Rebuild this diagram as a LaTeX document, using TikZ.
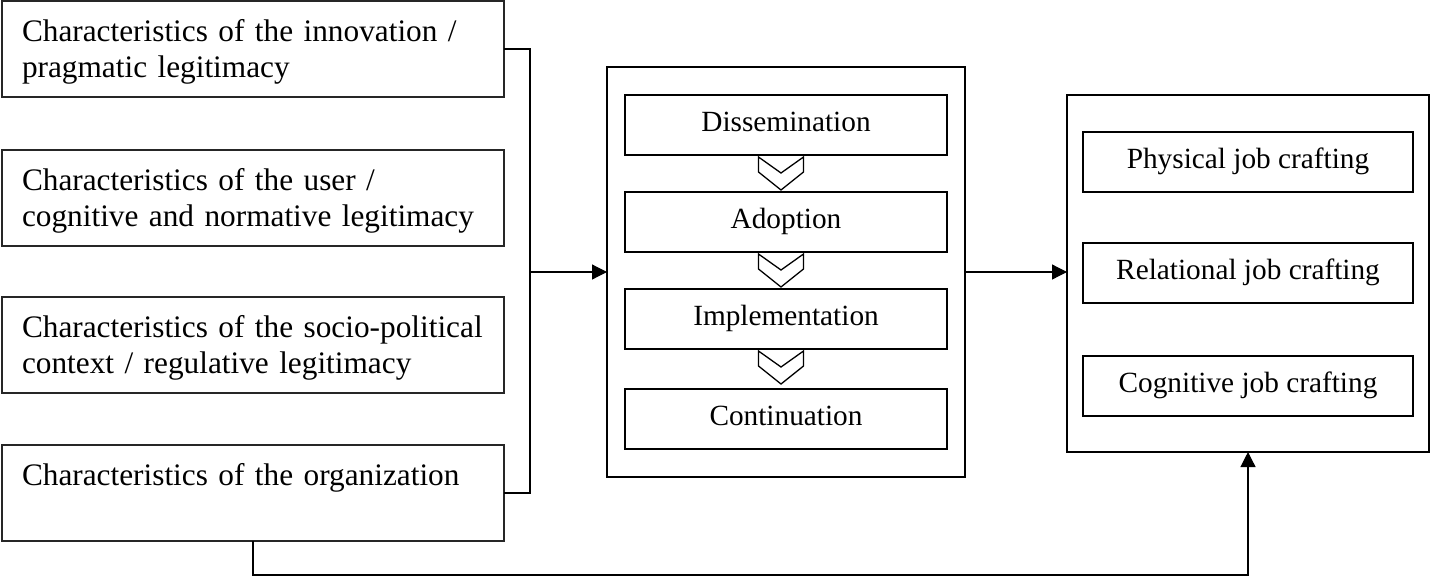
\documentclass[tikz,border=0pt]{standalone}
\usepackage{fontspec}
\setmainfont{Liberation Serif}
\usetikzlibrary{arrows.meta}
\begin{document}
\begin{tikzpicture}[x=1pt,y=-1pt, every node/.style={outer sep=0pt},
  lbox/.style={draw=black!85, line width=1.2pt, anchor=north west, text width=462pt,
    inner xsep=20pt, inner ysep=0pt, align=left, text height=40pt, text depth=56pt,
    font=\fontsize{31.3}{36}\selectfont},
  obox/.style={draw, line width=2.3pt, anchor=north west, inner sep=0pt},
  ibox/.style={draw, line width=1.2pt, anchor=north west, inner sep=0pt,
    minimum height=60pt, text height=20pt, text depth=7pt,
    font=\fontsize{29.3}{33}\selectfont},
  chev/.style={draw, line width=1.3pt, line join=miter, fill=white},
  conn/.style={draw, line width=1.2pt},
  arr/.style={conn, -{Triangle[length=15pt,width=15pt]}}
]
\fill[white] (0,0) rectangle (1431,576);
\useasboundingbox (0,0) rectangle (1431,576);

% left boxes
\node[lbox] (c1) at (2,1) {\mbox{Characteristics of the innovation /}\\\mbox{pragmatic legitimacy}};
\node[lbox] (c2) at (2,150) {\mbox{Characteristics of the user /}\\\mbox{cognitive and normative legitimacy}};
\node[lbox] (c3) at (2,297) {\mbox{Characteristics of the socio-political}\\\mbox{context / regulative legitimacy}};
\node[lbox] (c4) at (2,445) {\mbox{Characteristics of the organization}};

% process box
\node[obox, minimum width=358pt, minimum height=410pt] (proc) at (607,67) {};
\node[ibox, minimum width=322pt] (dis) at (625,95) {Dissemination};
\node[ibox, minimum width=322pt] (ado) at (625,192) {Adoption};
\node[ibox, minimum width=322pt] (imp) at (625,289) {Implementation};
\node[ibox, minimum width=322pt] (con) at (625,389) {Continuation};

\foreach \a in {dis,ado,imp}{
  \draw[chev] ([xshift=-5pt]\a.south) ++(-22.5,2) -- ++(22.5,16) -- ++(22.5,-16)
    -- ++(0,15) -- ++(-22.5,18) -- ++(-22.5,-18) -- cycle;
}

% crafting box
\node[obox, minimum width=362pt, minimum height=357pt] (craft) at (1067,95) {};
\node[ibox, minimum width=330pt] (phy) at (1083,132) {Physical job crafting};
\node[ibox, minimum width=330pt] (rel) at (1083,243) {Relational job crafting};
\node[ibox, minimum width=330pt] (cog) at (1083,356) {Cognitive job crafting};

% connectors
\coordinate (jn) at (530,272);
\coordinate (bot) at (0,575);
\draw[conn] (c1.east) -- (c1.east -| jn) -- (c4.east -| jn) -- (c4.east);
\draw[arr] (jn) -- (proc.west);
\draw[arr] (proc.east) -- (proc.east -| craft.west);
\draw[arr] (c4.south) -- (c4.south |- bot) -- (bot -| craft.south) -- (craft.south);
\end{tikzpicture}
\end{document}
